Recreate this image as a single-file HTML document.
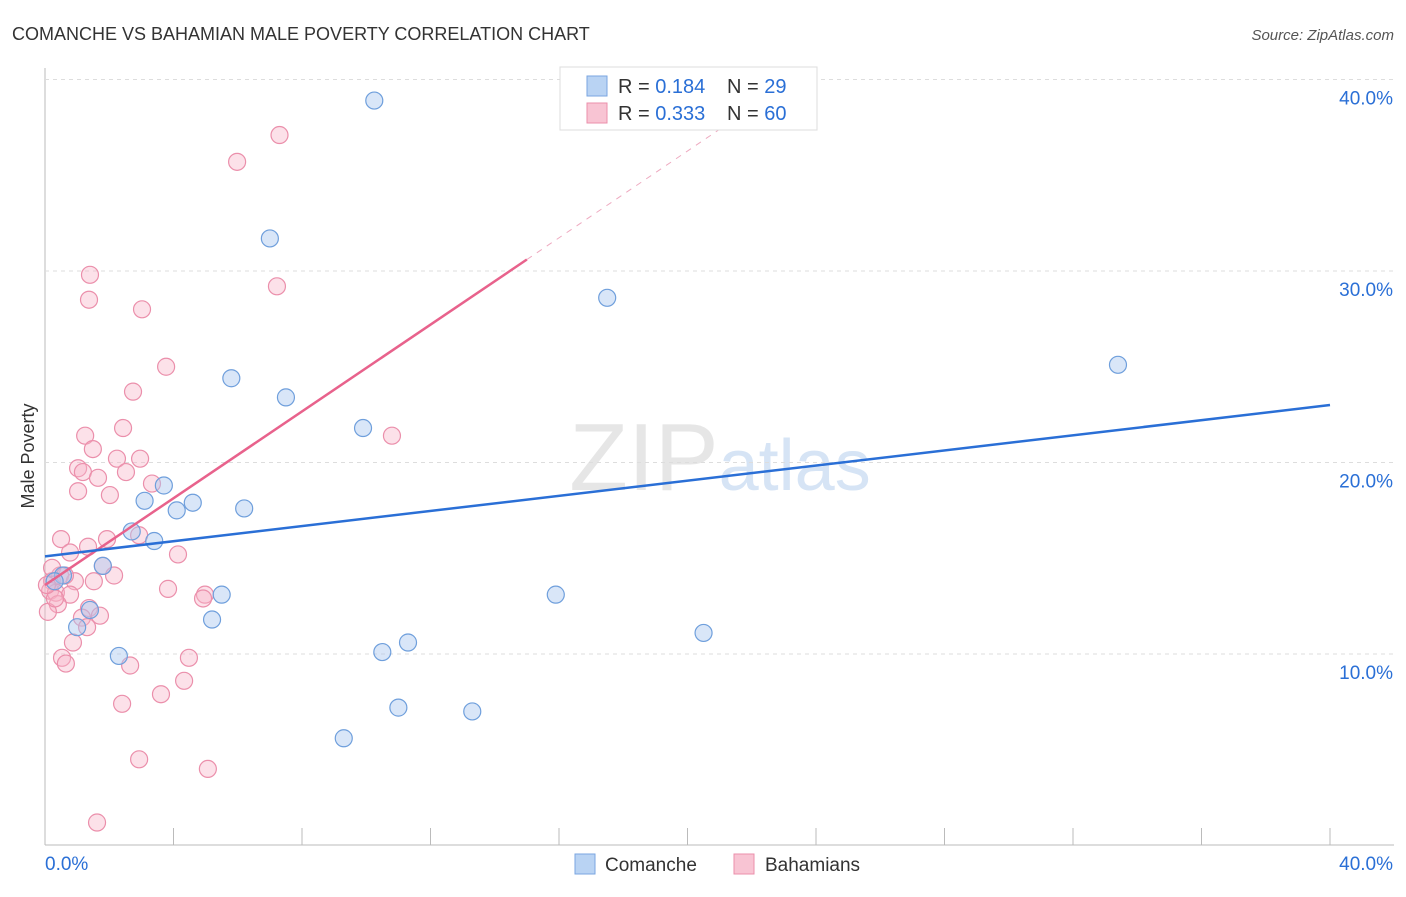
<!DOCTYPE html>
<html><head><meta charset="utf-8"><style>
body{margin:0;background:#fff;font-family:"Liberation Sans",sans-serif}
svg text{font-family:"Liberation Sans",sans-serif}
</style></head><body>
<svg id="c" width="1406" height="892">
<text x="12" y="40" font-size="18" fill="#333">COMANCHE VS BAHAMIAN MALE POVERTY CORRELATION CHART</text>
<text x="1394" y="40" font-size="15" fill="#555" font-style="italic" text-anchor="end">Source: ZipAtlas.com</text>
<text x="720" y="490" font-size="96" fill="#e6e6e6" text-anchor="middle" font-family="Liberation Serif">ZIP<tspan fill="#d6e4f5" font-family="Liberation Sans" font-size="72">atlas</tspan></text>
<text transform="translate(34,456) rotate(-90)" font-size="18" fill="#333" text-anchor="middle">Male Poverty</text>
<g id="grid"></g><g id="marks"></g>
<g>
<rect x="560" y="67" width="257" height="63" fill="#fff" stroke="#ddd"/>
<rect x="587" y="76" width="20" height="20" fill="#b9d3f3" stroke="#7aa6e0"/>
<rect x="587" y="103" width="20" height="20" fill="#f8c4d3" stroke="#eb8fab"/>
<text x="618" y="93" font-size="20" fill="#333">R = <tspan fill="#2a6fd6">0.184</tspan><tspan x="727">N = </tspan><tspan fill="#2a6fd6">29</tspan></text>
<text x="618" y="120" font-size="20" fill="#333">R = <tspan fill="#2a6fd6">0.333</tspan><tspan x="727">N = </tspan><tspan fill="#2a6fd6">60</tspan></text>
</g>
<g>
<rect x="575" y="854" width="20" height="20" fill="#b9d3f3" stroke="#7aa6e0"/>
<text x="605" y="871" font-size="19" fill="#333">Comanche</text>
<rect x="734" y="854" width="20" height="20" fill="#f8c4d3" stroke="#eb8fab"/>
<text x="765" y="871" font-size="19" fill="#333">Bahamians</text>
</g>
</svg>
<script>
const yTicks=[10,20,30,40];
const yTickLabels=["10.0%","20.0%","30.0%","40.0%"];
const comancheX=[10.25,7.0,17.5,33.4,5.8,7.5,9.9,3.7,3.1,4.6,4.1,6.2,2.7,3.4,1.8,0.56,5.5,15.9,5.2,1.0,1.4,20.5,11.3,10.5,2.3,11.0,13.3,9.3,0.3];
const comancheY=[38.9,31.7,28.6,25.1,24.4,23.4,21.8,18.8,18.0,17.9,17.5,17.6,16.4,15.9,14.6,14.1,13.1,13.1,11.8,11.4,12.3,11.1,10.6,10.1,9.9,7.2,7.0,5.6,13.8];
const bahamianX=[7.3,5.98,1.4,1.37,7.22,3.02,3.77,2.74,2.43,1.25,1.49,1.03,1.18,2.24,2.96,2.52,1.65,1.03,2.02,3.33,10.8,2.93,1.93,0.5,1.34,0.78,4.14,1.8,0.47,0.93,1.52,2.15,0.22,0.16,0.34,0.78,3.83,4.98,4.92,0.4,1.37,1.71,1.15,0.09,0.87,0.53,0.65,4.48,2.65,4.33,3.61,2.4,2.93,5.07,1.62,0.22,0.31,0.06,0.62,1.31];
const bahamianY=[37.1,35.7,29.8,28.5,29.2,28.0,25.0,23.7,21.8,21.4,20.7,19.7,19.5,20.2,20.2,19.5,19.2,18.5,18.3,18.9,21.4,16.2,16.0,16.0,15.6,15.3,15.2,14.6,14.1,13.8,13.8,14.1,13.8,13.3,13.2,13.1,13.4,13.1,12.9,12.6,12.4,12.0,11.9,12.2,10.6,9.8,9.5,9.8,9.4,8.6,7.9,7.4,4.5,4.0,1.2,14.5,12.9,13.6,14.1,11.4];
const comancheTrend=[15.1,23.0];
const bahamianTrend=[13.6,30.6];
const X=v=>45+v/40*1285, Y=v=>845.5-v*19.15;
const NS="http://www.w3.org/2000/svg";
function mk(p,t,a){const e=document.createElementNS(NS,t);for(const k in a)e.setAttribute(k,a[k]);p.appendChild(e);return e;}
const g=document.getElementById('grid');
let el=mk(g,'line',{x1:45,y1:68,x2:45,y2:845,stroke:'#bbb'});


el=mk(g,'line',{x1:45,y1:845,x2:1394,y2:845,stroke:'#bbb'});


for(let i=0;i<=10;i++){const x=45+i*128.5;el=mk(g,'line',{x1:x,y1:828,x2:x,y2:845,stroke:'#bbb'});

}
yTicks.forEach((v,i)=>{el=mk(g,'line',{x1:45,y1:Y(v),x2:1394,y2:Y(v),stroke:'#ddd','stroke-dasharray':'4,4'});


const t=mk(g,'text',{x:1393,y:Y(v)+25,'font-size':19,fill:'#2a6fd6','text-anchor':'end'});t.textContent=yTickLabels[i];

});
let t=mk(g,'text',{x:45,y:870,'font-size':19,fill:'#2a6fd6'});t.textContent='0.0%';


t=mk(g,'text',{x:1393,y:870,'font-size':19,fill:'#2a6fd6','text-anchor':'end'});t.textContent='40.0%';


const m=document.getElementById('marks');
bahamianX.forEach((x,i)=>{el=mk(m,'circle',{cx:X(x),cy:Y(bahamianY[i]),r:8.5,fill:'rgba(248,180,200,0.4)',stroke:'#eb8fab','stroke-width':1.2});

});
comancheX.forEach((x,i)=>{el=mk(m,'circle',{cx:X(x),cy:Y(comancheY[i]),r:8.5,fill:'rgba(170,200,240,0.45)',stroke:'#6f9fdc','stroke-width':1.2});

});
const bt=x=>bahamianTrend[0]+(bahamianTrend[1]-bahamianTrend[0])*x/15;
el=mk(m,'line',{x1:X(0),y1:Y(bt(0)),x2:X(15),y2:Y(bt(15)),stroke:'#e8628c','stroke-width':2.5});


el=mk(m,'line',{x1:X(15),y1:Y(bt(15)),x2:X(21.6),y2:Y(bt(21.6)),stroke:'#eeaac0','stroke-width':1,'stroke-dasharray':'6,6'});


el=mk(m,'line',{x1:X(0),y1:Y(comancheTrend[0]),x2:X(40),y2:Y(comancheTrend[1]),stroke:'#2a6fd6','stroke-width':2.5});


</script>
</body></html>
